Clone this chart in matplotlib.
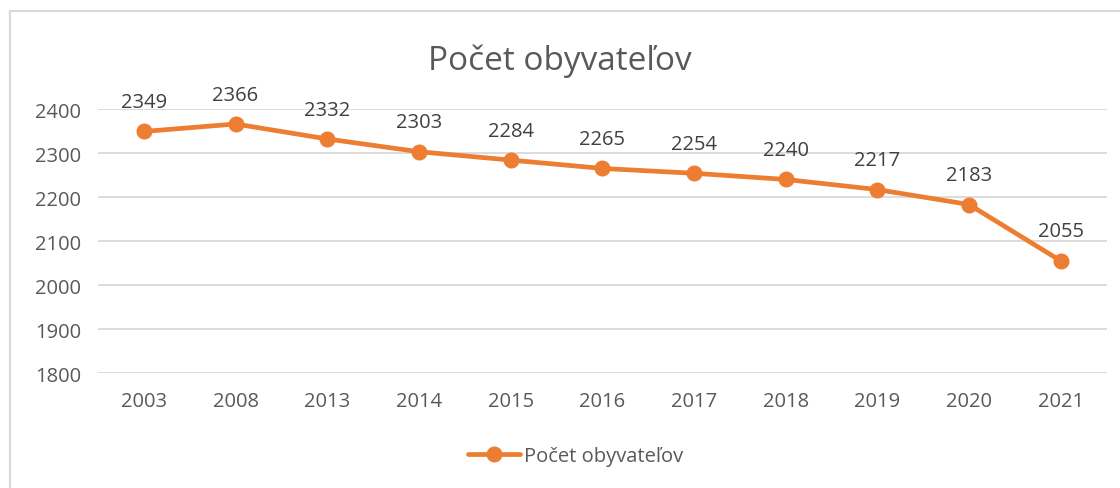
import matplotlib.pyplot as plt
from matplotlib.lines import Line2D

years = ['2003', '2008', '2013', '2014', '2015', '2016', '2017', '2018', '2019', '2020', '2021']
population = [2349, 2366, 2332, 2303, 2284, 2265, 2254, 2240, 2217, 2183, 2055]
y_ticks = [1800, 1900, 2000, 2100, 2200, 2300, 2400]

orange = '#ED7D31'
grey_txt = '#595959'

plt.rcParams['font.family'] = ['Open Sans', 'DejaVu Sans']

fig = plt.figure(figsize=(11.2, 4.89), dpi=100)
ax = fig.add_axes([0.0875, 0.235, 0.9005, 0.54])

x = list(range(len(years)))
ax.plot(x, population, color=orange, lw=3.4, marker='o', ms=10.5, solid_capstyle='round', zorder=3)
for xi, v in zip(x, population):
    ax.annotate(str(v), (xi, v), xytext=(0, 14), textcoords='offset points',
                ha='center', va='bottom', fontsize=14.5, color='#404040')

ax.set_xlim(-0.5, len(years) - 0.5)
ax.set_ylim(1800, 2400)
ax.set_yticks(y_ticks)
ax.set_xticks(x)
ax.set_xticklabels(years)
ax.tick_params(axis='both', length=0, labelsize=14.5, labelcolor=grey_txt)
ax.tick_params(axis='y', pad=12)
ax.tick_params(axis='x', pad=13)
ax.grid(axis='y', color='#D9D9D9', lw=1.3)
ax.set_axisbelow(True)
for s in ax.spines.values():
    s.set_visible(False)

fig.text(0.5, 0.875, 'Počet obyvateľov', ha='center', va='center', fontsize=24, color=grey_txt)

h = Line2D([], [], color=orange, lw=3.4, marker='o', ms=10.5, solid_capstyle='round')
fig.legend([h], ['Počet obyvateľov'], loc='center', bbox_to_anchor=(0.514, 0.065),
           frameon=False, fontsize=14.5, labelcolor=grey_txt, handlelength=2.6, handletextpad=0.2)

# chart frame (top and left edges visible)
fig.add_artist(Line2D([10 / 1120, 1], [1 - 12 / 489, 1 - 12 / 489], color='#D9D9D9', lw=1.5, transform=fig.transFigure))
fig.add_artist(Line2D([10 / 1120, 10 / 1120], [0, 1 - 12 / 489], color='#D9D9D9', lw=1.5, transform=fig.transFigure))

fig.savefig('out.png', dpi=100, facecolor='white')
